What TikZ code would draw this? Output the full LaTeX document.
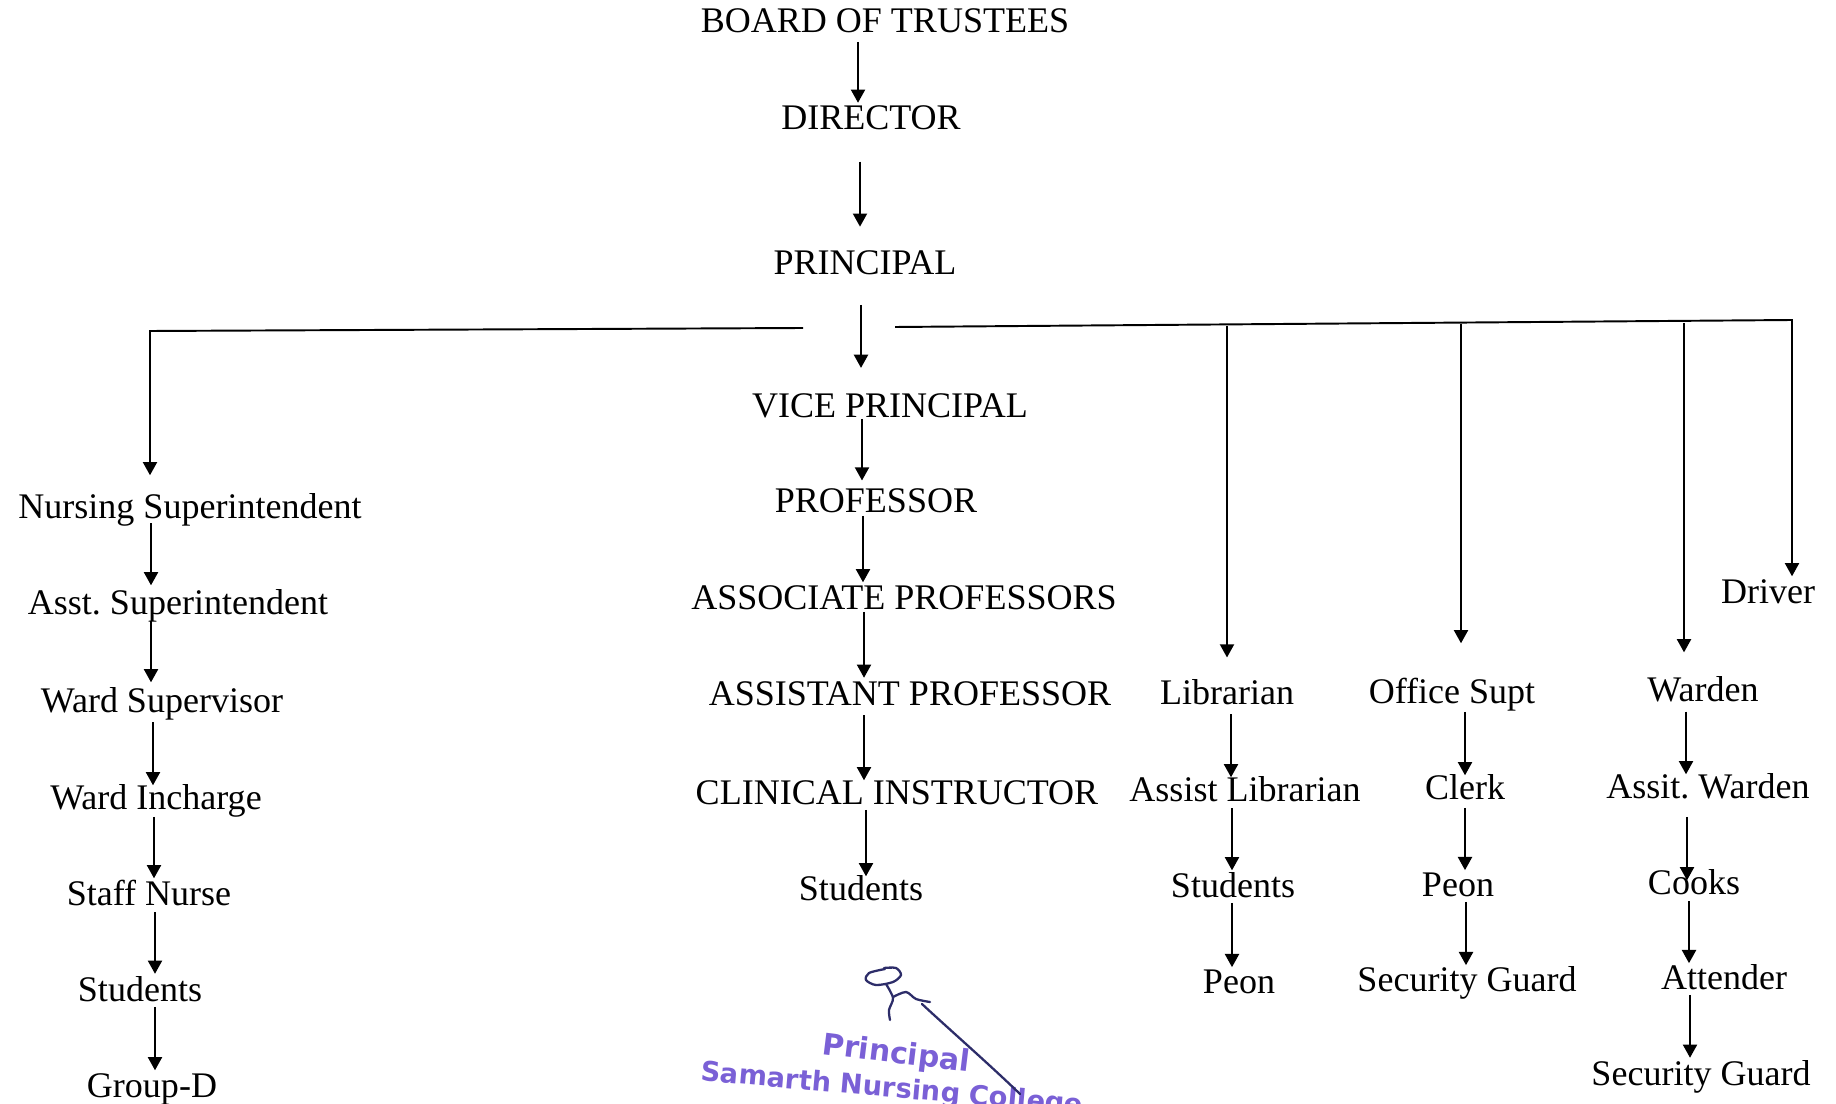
\documentclass[tikz,border=0pt]{standalone}
\usepackage{fontspec}
\setmainfont{Liberation Serif}
\newfontfamily\stampfont{DejaVu Sans}
\usetikzlibrary{arrows.meta}
\definecolor{stampblue}{RGB}{122,96,214}
\definecolor{inkblue}{RGB}{45,45,105}
\frenchspacing

\begin{document}
\begin{tikzpicture}[x=0.02cm,y=-0.02cm,
  post/.style={font=\fontsize{20.5}{24}\selectfont, inner sep=0pt, outer sep=0pt, anchor=base, text height=13.5pt, text depth=0pt},
  arr/.style={line width=1.1pt, -{Triangle[length=7.5pt,width=8pt]}, shorten <=4pt, shorten >=2pt},
  hline/.style={line width=1.1pt, line join=miter},
  stamp/.style={font=\stampfont\bfseries\fontsize{15.5}{18}\selectfont, text=stampblue, inner sep=0pt},
  sign/.style={draw=inkblue, line width=1.3pt, line cap=round, line join=round}]
\useasboundingbox (0,0) rectangle (1836,1104);

\node[post] (bt) at (885,33) {BOARD OF TRUSTEES};
\node[post] (dir) at (871,130) {DIRECTOR};
\node[post] (prin) at (865,275) {PRINCIPAL};

\node[post] (vp) at (890,418) {VICE PRINCIPAL};
\node[post] (prof) at (876,513) {PROFESSOR};
\node[post] (assoc) at (904,609) {ASSOCIATE PROFESSORS};
\node[post] (asst) at (910,705) {ASSISTANT PROFESSOR};
\node[post] (clin) at (897,804) {CLINICAL INSTRUCTOR};
\node[post] (stud1) at (861,900) {Students};

\node[post] (nsup) at (190,519) {Nursing Superintendent};
\node[post] (asup) at (178,615) {Asst. Superintendent};
\node[post] (wsup) at (162,712) {Ward Supervisor};
\node[post] (winc) at (156,809) {Ward Incharge};
\node[post] (staff) at (149,905) {Staff Nurse};
\node[post] (stud2) at (140,1001) {Students};
\node[post] (grpd) at (152,1097) {Group-D};

\node[post] (lib) at (1227,704) {Librarian};
\node[post] (alib) at (1245,801) {Assist Librarian};
\node[post] (stud3) at (1233,897) {Students};
\node[post] (peon1) at (1239,993) {Peon};

\node[post] (osupt) at (1452,703) {Office Supt};
\node[post] (clerk) at (1465,799) {Clerk};
\node[post] (peon2) at (1458,896) {Peon};
\node[post] (sec1) at (1467,991) {Security Guard};

\node[post] (ward) at (1703,701) {Warden};
\node[post] (award) at (1708,798) {Assit. Warden};
\node[post] (cooks) at (1694,894) {Cooks};
\node[post] (att) at (1724,989) {Attender};
\node[post] (sec2) at (1701,1085) {Security Guard};

\node[post] (drv) at (1768,603) {Driver};

\coordinate (gl) at (803,328);
\coordinate (jl) at (150,331);
\coordinate (gr) at (895,327);
\coordinate (jlib) at (1227,326);
\coordinate (joff) at (1461,324);
\coordinate (jwar) at (1684,323);
\coordinate (jdrv) at (1792,320);

\path[draw,arr,shorten <=5pt] (bt.south -| 858,0) -- (dir.north -| 858,0);
\path[draw,arr,shorten <=18pt,shorten >=14pt] (dir.south -| 860,0) -- (prin.north -| 860,0);
\path[draw,arr,shorten <=17pt,shorten >=15pt] (prin.south -| 861,0) -- (vp.north -| 861,0);

\path[draw,arr,shorten <=0.5pt,shorten >=5pt] (vp.south -| 862,0) -- (prof.north -| 862,0);
\path[draw,arr,shorten <=1.7pt,shorten >=1.7pt] (prof.south -| 863,0) -- (assoc.north -| 863,0);
\path[draw,arr,shorten <=1.7pt] (assoc.south -| 864,0) -- (asst.north -| 864,0);
\path[draw,arr,shorten <=5.7pt,shorten >=0pt] (asst.south -| 864,0) -- (clin.north -| 864,0);
\path[draw,arr,shorten <=3.4pt,shorten >=0pt] (clin.south -| 866,0) -- (stud1.north -| 866,0);

\path[draw,hline,arr,shorten <=0pt,shorten >=11.4pt] (gl) -- (jl) -- (nsup.north -| jl);
\path[draw,arr,shorten <=2.3pt,shorten >=3.4pt] (nsup.south -| 151,0) -- (asup.north -| 151,0);
\path[draw,arr,shorten <=3.4pt,shorten >=3.4pt] (asup.south -| 151,0) -- (wsup.north -| 151,0);
\path[draw,arr,shorten <=5.7pt,shorten >=0pt] (wsup.south -| 153,0) -- (winc.north -| 153,0);
\path[draw,arr,shorten <=4.5pt,shorten >=1.7pt] (winc.south -| 154,0) -- (staff.north -| 154,0);
\path[draw,arr] (staff.south -| 155,0) -- (stud2.north -| 155,0);
\path[draw,arr,shorten <=3.4pt,shorten >=1.7pt] (stud2.south -| 155,0) -- (grpd.north -| 155,0);

\path[draw,hline,arr,shorten <=0pt,shorten >=1.7pt] (gr) -- (jdrv) -- (drv.north -| jdrv);
\path[draw,arr,shorten <=0pt,shorten >=13pt] (jlib) -- (lib.north -| jlib);
\path[draw,arr,shorten <=0pt,shorten >=20.5pt] (joff) -- (osupt.north -| joff);
\path[draw,arr,shorten <=0pt,shorten >=14.2pt] (jwar) -- (ward.north -| jwar);

\path[draw,arr,shorten <=5.7pt,shorten >=0pt] (lib.south -| 1231,0) -- (alib.north -| 1231,0);
\path[draw,arr,shorten >=1.7pt] (alib.south -| 1232,0) -- (stud3.north -| 1232,0);
\path[draw,arr,shorten <=3.4pt,shorten >=1.2pt] (stud3.south -| 1232,0) -- (peon1.north -| 1232,0);

\path[draw,arr,shorten <=5pt,shorten >=0pt] (osupt.south -| 1465,0) -- (clerk.north -| 1465,0);
\path[draw,arr,shorten <=5pt,shorten >=1.2pt] (clerk.south -| 1465,0) -- (peon2.north -| 1465,0);
\path[draw,arr,shorten <=3.4pt,shorten >=1.2pt] (peon2.south -| 1466,0) -- (sec1.north -| 1466,0);

\path[draw,arr,shorten <=6pt,shorten >=0pt] (ward.south -| 1686,0) -- (award.north -| 1686,0);
\path[draw,arr,shorten <=10.8pt,shorten >=-5.7pt] (award.south -| 1687,0) -- (cooks.north -| 1687,0);
\path[draw,arr,shorten >=1.2pt] (cooks.south -| 1689,0) -- (att.north -| 1689,0);
\path[draw,arr,shorten <=3.4pt] (att.south -| 1690,0) -- (sec2.north -| 1690,0);

\node[stamp,rotate=-7,font=\stampfont\bfseries\fontsize{17}{20}\selectfont] (stp1) at (896,1055) {Principal};
\node[stamp,rotate=-5] (stp2) at (892,1090) {Samarth Nursing College};

\path[sign] plot[smooth] coordinates {(885,969) (869,973) (866,980) (876,985) (893,982) (901,975) (896,968) (884,968)};
\path[sign] plot[smooth] coordinates {(886,984) (893,998) (889,1010) (890,1020)};
\path[sign] plot[smooth] coordinates {(893,997) (906,992) (916,999) (930,1002)};
\path[sign] (922,1004) .. controls (950,1030) and (990,1065) .. (1020,1094);
\end{tikzpicture}
\end{document}
